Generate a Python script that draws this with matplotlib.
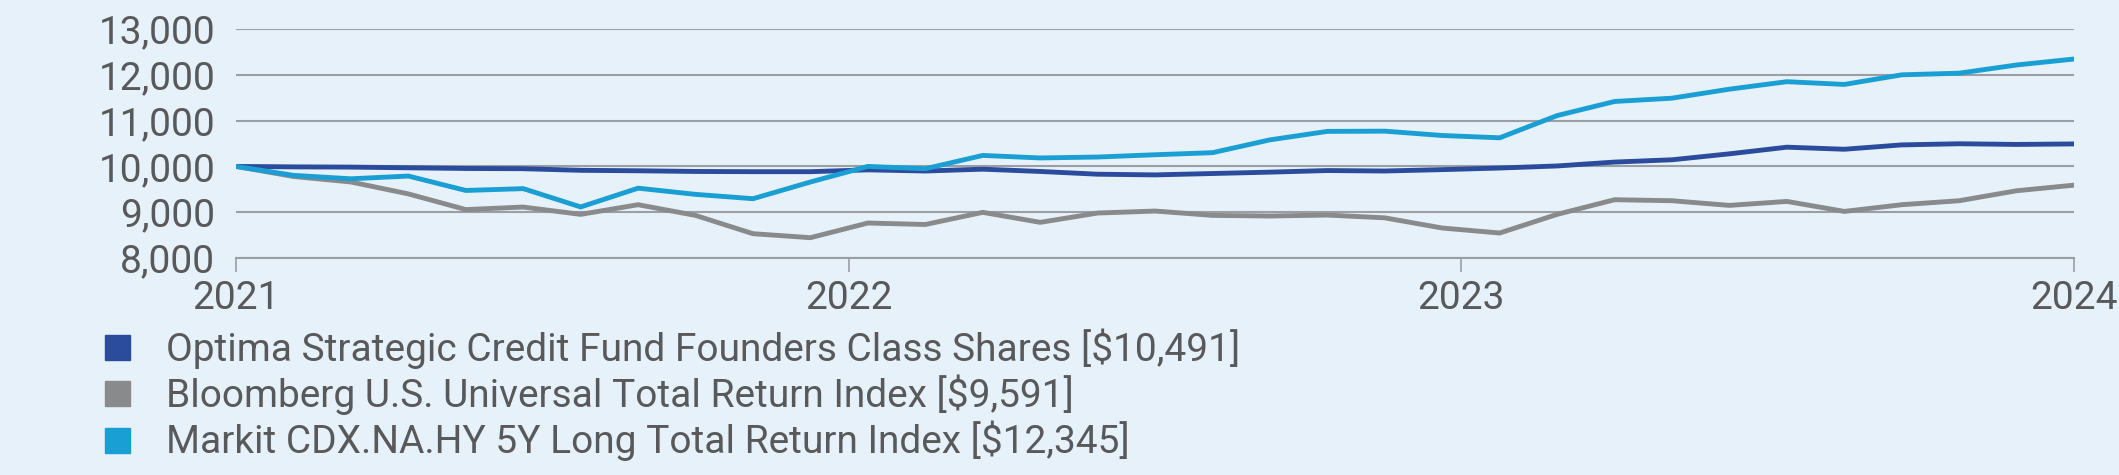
import matplotlib
matplotlib.use("Agg")
import matplotlib.pyplot as plt
from matplotlib.lines import Line2D

# monthly growth of $10,000 (33 observations)
fund = [10000, 9990, 9985, 9970, 9955, 9950, 9915, 9905, 9890, 9885, 9885,
        9925, 9900, 9940, 9890, 9830, 9815, 9845, 9875, 9910, 9900, 9930,
        9965, 10010, 10095, 10145, 10275, 10420, 10375, 10470, 10495, 10480, 10491]
bbg = [10000, 9780, 9660, 9400, 9058, 9113, 8953, 9164, 8930, 8531, 8444,
       8764, 8732, 8997, 8779, 8982, 9026, 8931, 8917, 8938, 8877, 8655,
       8546, 8953, 9273, 9251, 9149, 9236, 9018, 9164, 9251, 9469, 9591]
cdx = [10000, 9805, 9730, 9790, 9475, 9515, 9115, 9525, 9390, 9295, 9660,
       10000, 9950, 10240, 10185, 10205, 10255, 10300, 10580, 10765, 10770, 10675,
       10625, 11110, 11418, 11490, 11687, 11850, 11790, 12000, 12036, 12215, 12345]
year_labels = ["2021", "2022", "2023", "2024"]
y_ticks = [8000, 9000, 10000, 11000, 12000, 13000]
names = ["Optima Strategic Credit Fund Founders Class Shares [$10,491]",
         "Bloomberg U.S. Universal Total Return Index [$9,591]",
         "Markit CDX.NA.HY 5Y Long Total Return Index [$12,345]"]

navy = "#2b4c9c"
grey = "#898a8c"
cyan = "#1a9fd4"
bg = "#e7f1fa"
gridc = "#9b9fa4"
textc = "#58595b"

plt.rcParams['font.family'] = ['Roboto', 'DejaVu Sans']

fig = plt.figure(figsize=(21.19, 4.75), dpi=100, facecolor=bg)
ax = fig.add_axes([0.1114, 0.4568, 0.8674, 0.4821], facecolor=bg)

x = list(range(len(fund)))
ax.plot(x, bbg, color=grey, lw=3.5, solid_joinstyle='miter', zorder=3)
ax.plot(x, fund, color=navy, lw=3.5, solid_joinstyle='miter', zorder=4)
ax.plot(x, cdx, color=cyan, lw=3.5, solid_joinstyle='miter', zorder=5)

n = len(fund) - 1
ax.set_xlim(0, n)
ax.set_ylim(8000, 13000)
ax.set_yticks(y_ticks)
ax.set_yticklabels([f"{v:,}" for v in y_ticks])
ax.set_xticks([0, n / 3, 2 * n / 3, n])
ax.set_xticklabels(year_labels)
ax.grid(axis='y', color=gridc, lw=1.5, zorder=1)
for s in ['left', 'right', 'top']:
    ax.spines[s].set_visible(False)
ax.spines['bottom'].set_color(gridc)
ax.spines['bottom'].set_linewidth(1.5)
ax.tick_params(axis='y', length=0, pad=15, labelsize=28, labelcolor=textc)
ax.tick_params(axis='x', length=10, width=1.2, color=gridc, pad=6,
               labelsize=28, labelcolor=textc)

handles = [Line2D([], [], ls='none', marker='s', markersize=18, color=c)
           for c in (navy, grey, cyan)]
leg = fig.legend(handles, names, loc='upper left', bbox_to_anchor=(0.046, 0.309),
                 frameon=False, fontsize=28, labelcolor=textc, handletextpad=0.75,
                 labelspacing=0.15, borderaxespad=0, borderpad=0, handlelength=1.0)

fig.savefig("out.png", dpi=100, facecolor=bg)
